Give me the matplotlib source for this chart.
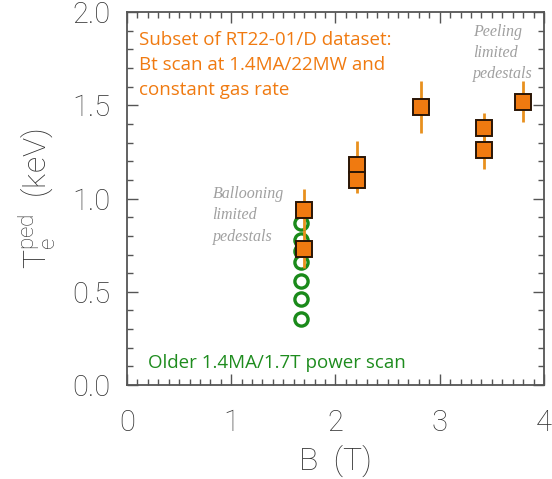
import matplotlib
matplotlib.use("Agg")
import matplotlib.pyplot as plt
from matplotlib.ticker import MultipleLocator

# Data
b_sq = [1.70, 1.70, 2.21, 2.21, 2.82, 3.42, 3.42, 3.80]
te_sq = [0.94, 0.73, 1.18, 1.10, 1.49, 1.38, 1.26, 1.52]
err_sq = [0.11, 0.10, 0.13, 0.07, 0.14, 0.08, 0.10, 0.11]

b_circ = [1.67, 1.67, 1.67, 1.67, 1.67, 1.67, 1.67]
te_circ = [0.87, 0.78, 0.72, 0.66, 0.56, 0.46, 0.355]

xticks = [0, 1, 2, 3, 4]
yticks = [0.0, 0.5, 1.0, 1.5, 2.0]
xticklabels = ["0", "1", "2", "3", "4"]
yticklabels = ["0.0", "0.5", "1.0", "1.5", "2.0"]

fig = plt.figure(figsize=(5.52, 4.79), dpi=100)
ax = fig.add_axes([0.230, 0.196, 0.7555, 0.779])

orange = "#F07A10"
green = "#1E8C1E"
axcol = "#555555"
lblcol = "#333333"
tickfont = "Roboto"
tickweight = "light"

ax.plot(b_circ, te_circ, linestyle="none", marker="o", markersize=9.5,
        markerfacecolor="white", markeredgecolor="#1A8A1A", markeredgewidth=2.4, zorder=2)
ax.errorbar(b_sq, te_sq, yerr=err_sq, fmt="none", ecolor="#E8901E", elinewidth=2, zorder=3)
ax.plot(b_sq, te_sq, linestyle="none", marker="s", markersize=11.5,
        markerfacecolor=orange, markeredgecolor="#2A1505", markeredgewidth=1.4, zorder=4)

ax.set_xlim(0, 4)
ax.set_ylim(0, 2.0)
ax.set_xticks(xticks)
ax.set_xticklabels(xticklabels)
ax.set_yticks(yticks)
ax.set_yticklabels(yticklabels)
ax.xaxis.set_minor_locator(MultipleLocator(0.1))
ax.yaxis.set_minor_locator(MultipleLocator(0.1))
ax.tick_params(which="both", direction="in", top=True, right=True, colors=axcol, width=1.0)
ax.tick_params(which="major", length=8)
ax.tick_params(which="minor", length=4)
ax.tick_params(axis="both", which="major", labelsize=21, labelcolor=lblcol)
ax.tick_params(axis="x", pad=17)
ax.tick_params(axis="y", pad=12)
for lab in ax.get_xticklabels() + ax.get_yticklabels():
    lab.set_fontfamily(tickfont)
    lab.set_fontweight(tickweight)
for s in ax.spines.values():
    s.set_color(axcol)
    s.set_linewidth(1.3)

ax.set_xlabel("B  (T)", fontsize=23, color=lblcol, labelpad=6, fontweight=tickweight,
              family=tickfont)
ax.set_ylabel(r"T$_\mathregular{e}^\mathregular{ped}$  (keV)", fontsize=23, color=lblcol,
              labelpad=10, fontweight=tickweight, family=tickfont)

tfont = "Open Sans"
ax.text(0.028, 0.948, "Subset of RT22-01/D dataset:\nBt scan at 1.4MA/22MW and\nconstant gas rate",
        transform=ax.transAxes, ha="left", va="top", fontsize=13.5, color=orange,
        family=tfont, linespacing=1.5)
ax.text(0.05, 0.06, "Older 1.4MA/1.7T power scan", transform=ax.transAxes,
        ha="left", va="center", fontsize=13.5, color=green, family=tfont)

ax.text(0.205, 0.455, "Ballooning\nlimited\npedestals", transform=ax.transAxes,
        ha="left", va="center", fontsize=11.5, color="#A0A0A0", family="Liberation Serif",
        style="italic", linespacing=1.45)
ax.text(0.974, 0.89, "Peeling\nlimited\npedestals", transform=ax.transAxes,
        ha="right", va="center", fontsize=11.5, color="#A0A0A0", family="Liberation Serif",
        style="italic", linespacing=1.45, multialignment="left")

fig.savefig("out.png", dpi=100)
